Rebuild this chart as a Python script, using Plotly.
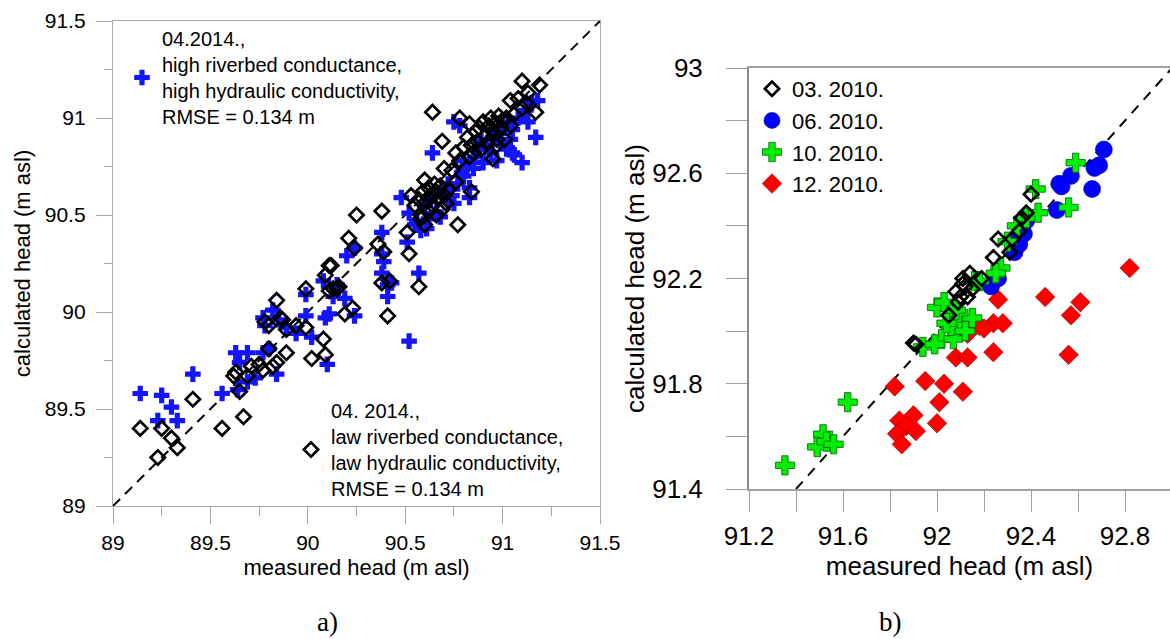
import plotly.graph_objects as go

# ---------------- data: panel a) ----------------
a_low_x = [89.14, 89.25, 89.23, 89.30, 89.33, 89.41, 89.56, 89.67, 89.63, 89.62, 89.65, 89.69, 89.71, 89.75, 89.77,
           89.82, 89.84, 89.89, 89.80, 89.84, 89.78, 89.80, 89.86, 89.87, 89.89, 89.94, 89.99, 90.02, 90.08, 90.09,
           89.99, 90.12, 90.09, 90.13, 90.15, 90.19, 90.21, 90.64, 90.25, 90.38, 90.24, 90.36, 90.39, 90.11, 90.16,
           90.11, 90.38, 90.42, 90.57, 90.23, 90.41, 90.52, 90.51, 90.77, 90.53, 90.58, 90.60, 90.60,
           90.55, 90.57, 90.59, 90.61, 90.62, 90.63, 90.64, 90.65, 90.66, 90.67, 90.68, 90.69, 90.70, 90.71, 90.72,
           90.62, 90.58, 90.66, 90.69, 90.70, 90.74, 90.76, 90.84, 90.83, 90.78, 90.83,
           90.80, 90.82, 90.84, 90.86, 90.87, 90.88, 90.89, 90.90, 90.91, 90.92, 90.93, 90.94, 90.95, 90.96, 90.97,
           90.98, 90.99, 91.00, 91.02, 91.04, 91.06, 90.85, 90.78, 90.76, 90.95, 90.97, 91.01, 91.04, 91.10, 91.19,
           91.13, 91.17, 91.10, 91.08, 91.12]
a_low_y = [89.40, 89.40, 89.25, 89.35, 89.30, 89.55, 89.40, 89.46, 89.69, 89.67, 89.59, 89.67, 89.72, 89.73, 89.70,
           89.72, 89.74, 89.79, 89.81, 90.06, 89.95, 89.93, 89.97, 89.96, 89.91, 89.93, 89.92, 89.76, 89.86, 89.78,
           90.12, 90.24, 90.19, 90.12, 90.12, 89.99, 90.38, 91.03, 90.50, 90.52, 90.33, 90.35, 90.31, 90.24, 90.13,
           90.11, 90.15, 90.16, 90.13, 90.02, 89.98, 90.30, 90.41, 90.45, 90.60, 90.50, 90.45, 90.68,
           90.55, 90.58, 90.62, 90.57, 90.64, 90.60, 90.55, 90.66, 90.62, 90.58, 90.65, 90.53, 90.60, 90.56, 90.63,
           90.52, 90.48, 90.50, 90.88, 90.74, 90.73, 90.67, 90.62, 90.80, 91.00, 90.97,
           90.85, 90.90, 90.86, 90.93, 90.88, 90.95, 90.84, 90.98, 90.91, 90.87, 90.96, 91.00, 90.93, 90.97, 90.89,
           91.01, 90.95, 90.99, 91.00, 90.96, 91.02, 90.82, 90.78, 90.82, 90.79, 90.86, 90.89, 91.09, 91.19, 91.17,
           91.13, 91.03, 91.05, 91.10, 91.08]

a_high_x = [89.14, 89.25, 89.30, 89.23, 89.33, 89.41, 89.56, 89.64, 89.63, 89.69, 89.65, 89.69, 89.73, 89.77, 89.80,
            89.84, 89.82, 89.77, 89.78, 89.85, 89.89, 89.94, 89.99, 90.02, 90.09, 90.10, 89.99, 90.08, 90.13, 90.19,
            90.20, 90.15, 90.48, 90.38, 90.24, 90.38, 90.39, 90.51, 90.57, 90.38, 90.41, 90.41, 90.43, 90.24, 90.11,
            90.52, 90.64, 90.75, 90.78, 90.58, 90.61, 90.52, 90.56, 90.66, 90.68, 90.75, 90.83, 90.83, 90.80, 90.85,
            90.80, 90.90, 90.97, 91.02, 91.05, 91.06, 91.10, 91.05, 91.13, 91.17, 91.18, 91.04, 90.94, 90.89, 90.99,
            90.60, 90.63, 90.65, 90.70, 90.72, 90.74, 90.77, 90.79, 90.82, 90.86, 90.88, 90.92, 90.95, 90.98, 91.00,
            91.03, 91.08, 91.12, 91.15, 90.62, 90.55]
a_high_y = [89.58, 89.57, 89.51, 89.44, 89.44, 89.68, 89.58, 89.60, 89.79, 89.79, 89.74, 89.64, 89.66, 89.79, 89.81,
            89.68, 90.01, 89.97, 89.93, 89.96, 89.92, 89.89, 89.98, 89.87, 89.97, 89.73, 90.09, 90.16, 90.08, 90.07,
            90.29, 90.14, 90.59, 90.41, 90.33, 90.30, 90.26, 90.36, 90.20, 90.20, 90.14, 90.08, 90.15, 89.98, 89.99,
            89.85, 90.82, 90.98, 90.96, 90.42, 90.43, 90.51, 90.47, 90.51, 90.49, 90.56, 90.59, 90.64, 90.70, 90.74,
            90.78, 90.77, 90.78, 90.84, 90.82, 90.81, 90.77, 90.94, 90.98, 90.90, 91.09, 90.89, 90.82, 90.88, 90.87,
            90.55, 90.58, 90.60, 90.62, 90.66, 90.60, 90.66, 90.72, 90.76, 90.80, 90.84, 90.85, 90.90, 90.92, 90.95,
            90.98, 91.00, 91.04, 91.08, 90.48, 90.45]

a_line = [89.0, 91.5]
a_ticks = [89, 89.5, 90, 90.5, 91, 91.5]
a_tick_labels = ["89", "89.5", "90", "90.5", "91", "91.5"]

# ---------------- data: panel b) ----------------
b03_x = [91.91, 91.90, 92.05, 92.14, 92.11, 92.08, 92.13, 92.09, 92.15, 92.12, 92.19, 92.24, 92.26, 92.31, 92.32,
         92.35, 92.36, 92.38, 92.40, 92.11, 92.10]
b03_y = [91.95, 91.955, 92.06, 92.22, 92.18, 92.15, 92.13, 92.11, 92.16, 92.17, 92.20, 92.28, 92.35, 92.30, 92.35,
         92.38, 92.43, 92.45, 92.52, 92.20, 92.13]

b06_x = [92.23, 92.26, 92.33, 92.35, 92.37, 92.38, 92.34, 92.51, 92.52, 92.66, 92.71, 92.69, 92.67, 92.57, 92.53]
b06_y = [92.17, 92.20, 92.30, 92.33, 92.37, 92.42, 92.35, 92.46, 92.56, 92.54, 92.69, 92.63, 92.62, 92.59, 92.55]

b10_x = [91.353, 91.515, 91.49, 91.53, 91.56, 91.62, 91.94, 92.00, 92.03, 92.02, 92.07, 92.06, 92.10, 92.12, 92.15,
         92.09, 92.16, 92.04, 92.08, 91.99, 92.27, 92.25, 92.18, 92.30, 92.34, 92.38, 92.43, 92.42, 92.56, 92.59]
b10_y = [91.49, 91.608, 91.56, 91.58, 91.57, 91.73, 91.94, 92.09, 92.11, 91.97, 91.97, 92.02, 92.04, 92.00, 92.05,
         92.07, 92.19, 92.03, 92.08, 91.95, 92.24, 92.22, 92.19, 92.34, 92.40, 92.43, 92.45, 92.54, 92.47, 92.64]

b12_x = [91.82, 91.95, 92.03, 92.11, 92.08, 92.13, 92.01, 92.00, 91.84, 91.90, 91.87, 91.83, 91.91, 91.85, 92.13,
         92.18, 92.26, 92.46, 92.61, 92.57, 92.82, 92.24, 92.28, 92.20, 92.24, 92.56]
b12_y = [91.79, 91.81, 91.80, 91.77, 91.90, 91.90, 91.73, 91.65, 91.66, 91.68, 91.64, 91.61, 91.62, 91.57, 91.99,
         92.02, 92.12, 92.13, 92.11, 92.06, 92.24, 92.03, 92.03, 92.01, 91.92, 91.91]

b_line = [91.4, 93.0]
b_xticks = [91.2, 91.4, 91.6, 91.8, 92.0, 92.2, 92.4, 92.6, 92.8, 93.0]
b_xtick_labels = ["91.2", "", "91.6", "", "92", "", "92.4", "", "92.8", ""]
b_yticks = [91.4, 91.6, 91.8, 92.0, 92.2, 92.4, 92.6, 92.8, 93.0]
b_ytick_labels = ["91.4", "", "91.8", "", "92.2", "", "92.6", "", "93"]

FONT = "Liberation Sans, Arial, sans-serif"
SERIF = "Liberation Serif, Times New Roman, serif"
AX_A = "#a8a8a8"
AX_B = "#a0a0a0"

fig = go.Figure()

# panel a
fig.add_trace(go.Scatter(x=a_line, y=a_line, mode="lines", xaxis="x", yaxis="y",
                         line=dict(color="black", width=2, dash="10px,7px"), showlegend=False, hoverinfo="skip"))
fig.add_trace(go.Scatter(x=a_high_x, y=a_high_y, mode="markers", xaxis="x", yaxis="y",
                         name="04.2014.,<br>high riverbed conductance,<br>high hydraulic conductivity,<br>RMSE = 0.134 m",
                         marker=dict(symbol="cross", size=13, color="#1414ff", line=dict(width=0)),
                         legend="legend2"))
fig.add_trace(go.Scatter(x=a_low_x, y=a_low_y, mode="markers", xaxis="x", yaxis="y",
                         name="04. 2014.,<br>law riverbed conductance,<br>law hydraulic conductivity,<br>RMSE = 0.134 m",
                         marker=dict(symbol="diamond-open", size=11, color="black", line=dict(width=2.7, color="black")),
                         legend="legend3"))

# panel b
fig.add_trace(go.Scatter(x=b_line, y=b_line, mode="lines", xaxis="x2", yaxis="y2",
                         line=dict(color="black", width=2, dash="10px,8px"), showlegend=False, hoverinfo="skip"))
fig.add_trace(go.Scatter(x=b12_x, y=b12_y, mode="markers", xaxis="x2", yaxis="y2", name="12. 2010.",
                         marker=dict(symbol="diamond", size=15, color="#ff0000", line=dict(width=0.6, color="#8b0000")),
                         legendrank=4))
fig.add_trace(go.Scatter(x=b06_x, y=b06_y, mode="markers", xaxis="x2", yaxis="y2", name="06. 2010.",
                         marker=dict(symbol="circle", size=17, color="#0000ff", line=dict(width=0.6, color="#00008b")),
                         legendrank=2))
fig.add_trace(go.Scatter(x=b10_x, y=b10_y, mode="markers", xaxis="x2", yaxis="y2", name="10. 2010.",
                         marker=dict(symbol="cross", size=16, color="#00ee00", line=dict(width=0.8, color="#006400")),
                         legendrank=3))
fig.add_trace(go.Scatter(x=b03_x, y=b03_y, mode="markers", xaxis="x2", yaxis="y2", name="03. 2010.",
                         marker=dict(symbol="diamond-open", size=11, color="black", line=dict(width=2.7, color="black")),
                         legendrank=1))

axis_common = dict(showgrid=False, zeroline=False, ticks="outside", showline=True, automargin=False)

fig.update_layout(
    width=1170, height=639,
    margin=dict(l=0, r=0, t=0, b=0, autoexpand=False),
    paper_bgcolor="white", plot_bgcolor="white",
    font=dict(family=FONT, color="black"),
    xaxis=dict(**axis_common, domain=[113 / 1170, 600 / 1170], range=[89, 91.5],
               tickvals=a_ticks, ticktext=a_tick_labels, ticklen=17, tickcolor=AX_A, tickwidth=1.3,
               linecolor=AX_A, linewidth=1.3, mirror=True,
               minor=dict(dtick=0.25, ticks="outside", ticklen=9, tickcolor=AX_A, tickwidth=1.3),
               tickfont=dict(size=21), ticklabelstandoff=1,
               title=dict(text="measured head (m asl)", font=dict(size=22), standoff=6)),
    yaxis=dict(**axis_common, domain=[1 - 506 / 639, 1 - 21 / 639], range=[89, 91.5],
               tickvals=a_ticks, ticktext=a_tick_labels, ticklen=16, tickcolor=AX_A, tickwidth=1.3,
               linecolor=AX_A, linewidth=1.3, mirror=True,
               minor=dict(dtick=0.25, ticks="outside", ticklen=8, tickcolor=AX_A, tickwidth=1.3),
               tickfont=dict(size=21), ticklabelstandoff=6,
               title=dict(text="calculated head (m asl)", font=dict(size=22), standoff=8)),
    xaxis2=dict(**axis_common, domain=[749 / 1170, 1.0], range=[91.2, 91.2 + 421 / 235], anchor="y2",
                tickvals=b_xticks, ticktext=b_xtick_labels, ticklen=21, tickcolor=AX_B, tickwidth=1.3,
                linecolor=AX_B, linewidth=1.5, mirror=True,
                tickfont=dict(size=26), ticklabelstandoff=2,
                title=dict(text="measured head (m asl)", font=dict(size=26), standoff=0)),
    yaxis2=dict(**axis_common, domain=[1 - 489 / 639, 1 - 68 / 639], range=[91.4, 93], anchor="x2",
                tickvals=b_yticks, ticktext=b_ytick_labels, ticklen=21, tickcolor=AX_B, tickwidth=1.3,
                linecolor="#8c8c8c", linewidth=2,
                tickfont=dict(size=26), ticklabelstandoff=18,
                title=dict(text="calculated head (m asl)", font=dict(size=26), standoff=0)),
    legend=dict(x=752 / 1170, y=1 - 68 / 639, xanchor="left", yanchor="top", bgcolor="rgba(0,0,0,0)",
                font=dict(size=22), tracegroupgap=0, itemsizing="trace"),
    legend2=dict(x=122 / 1170, y=1 - 19 / 639, xanchor="left", yanchor="top", bgcolor="rgba(0,0,0,0)",
                 font=dict(size=20), valign="middle"),
    legend3=dict(x=291 / 1170, y=1 - 391 / 639, xanchor="left", yanchor="top", bgcolor="rgba(0,0,0,0)",
                 font=dict(size=20), valign="middle"),
    annotations=[
        dict(text="a)", x=327 / 1170, y=1 - 622 / 639, xref="paper", yref="paper", showarrow=False,
             xanchor="center", yanchor="middle", font=dict(family=SERIF, size=27)),
        dict(text="b)", x=890 / 1170, y=1 - 622 / 639, xref="paper", yref="paper", showarrow=False,
             xanchor="center", yanchor="middle", font=dict(family=SERIF, size=27)),
    ],
)

fig.write_html("out.html")
